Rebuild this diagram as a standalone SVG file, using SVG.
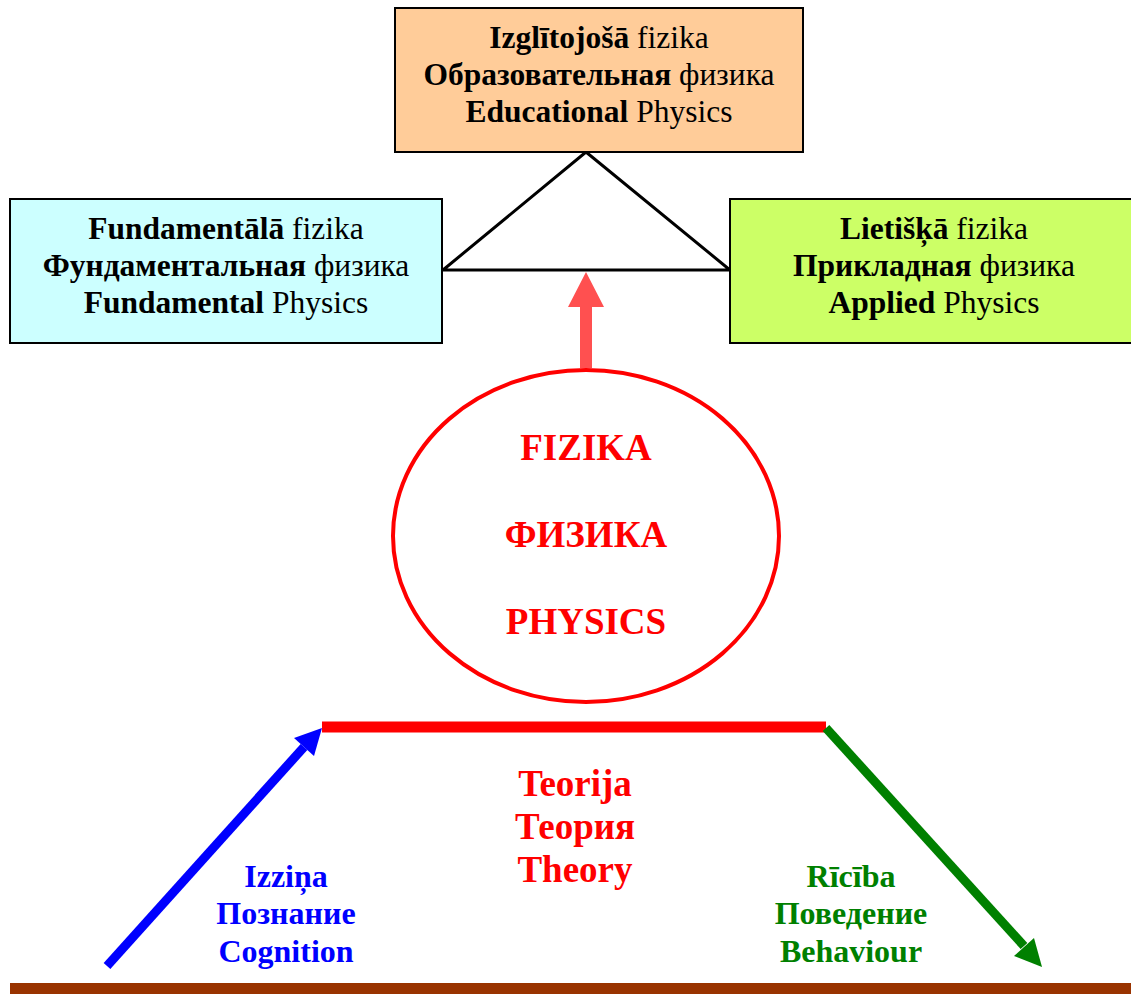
<svg xmlns="http://www.w3.org/2000/svg" width="1131" height="994" viewBox="0 0 1131 994">
<style>
.box{stroke:#000;stroke-width:2}
.t{font-family:"Liberation Serif","Times New Roman",serif;font-size:31.5px;fill:#000;text-anchor:middle}
.b{font-weight:bold}
.ph{font-family:"Liberation Serif","Times New Roman",serif;font-weight:bold;font-size:37px;fill:#FF0000;text-anchor:middle}
.th{font-family:"Liberation Serif","Times New Roman",serif;font-weight:bold;font-size:37px;fill:#FF0000;text-anchor:middle}
.lb{font-family:"Liberation Serif","Times New Roman",serif;font-weight:bold;font-size:32px;text-anchor:middle}
</style>
<rect width="1131" height="994" fill="#fff"/>
<g id="connectors">
<polyline points="443,270 586,152 730,270 443,270" fill="none" stroke="#000" stroke-width="3" stroke-linejoin="miter"/>
<polygon points="580,368 592,368 592,307 604,307 586,272 568,307 580,307" fill="#FF5050"/>
<line x1="322" y1="727" x2="826" y2="727" stroke="#FF0000" stroke-width="11"/>
<line x1="107" y1="966" x2="304" y2="747" stroke="#0000FF" stroke-width="9"/>
<polygon points="322,728 314,756 294,738" fill="#0000FF"/>
<line x1="826" y1="728" x2="1024" y2="946" stroke="#008000" stroke-width="9"/>
<polygon points="1042,967 1014,956 1034,938" fill="#008000"/>
<rect x="10" y="983" width="1121" height="11" fill="#993300"/>
</g>
<g id="educational">
<rect class="box" x="395" y="8" width="408" height="144" fill="#FFCC99"/>
<text class="t" x="599" y="48"><tspan class="b">Izglītojošā</tspan> fizika</text>
<text class="t" x="599" y="85"><tspan class="b">Образовательная</tspan> физика</text>
<text class="t" x="599" y="122"><tspan class="b">Educational</tspan> Physics</text>
</g>
<g id="fundamental">
<rect class="box" x="10" y="199" width="432" height="144" fill="#CCFFFF"/>
<text class="t" x="226" y="239"><tspan class="b">Fundamentālā</tspan> fizika</text>
<text class="t" x="226" y="276"><tspan class="b">Фундаментальная</tspan> физика</text>
<text class="t" x="226" y="313"><tspan class="b">Fundamental</tspan> Physics</text>
</g>
<g id="applied">
<rect class="box" x="730" y="199" width="410" height="144" fill="#CCFF66"/>
<text class="t" x="934" y="239"><tspan class="b">Lietišķā</tspan> fizika</text>
<text class="t" x="934" y="276"><tspan class="b">Прикладная</tspan> физика</text>
<text class="t" x="934" y="313"><tspan class="b">Applied</tspan> Physics</text>
</g>
<g id="physics">
<ellipse cx="586" cy="536" rx="193" ry="166" fill="none" stroke="#FF0000" stroke-width="4"/>
<text class="ph" x="586" y="460">FIZIKA</text>
<text class="ph" x="586" y="547">ФИЗИКА</text>
<text class="ph" x="586" y="634">PHYSICS</text>
</g>
<g id="theory">
<text class="th" x="575" y="796">Teorija</text>
<text class="th" x="575" y="839">Теория</text>
<text class="th" x="575" y="882">Theory</text>
</g>
<g id="cognition">
<text class="lb" x="286" y="887" fill="#0000FF">Izziņa</text>
<text class="lb" x="286" y="924" fill="#0000FF">Познание</text>
<text class="lb" x="286" y="962" fill="#0000FF">Cognition</text>
</g>
<g id="behaviour">
<text class="lb" x="851" y="887" fill="#008000">Rīcība</text>
<text class="lb" x="851" y="924" fill="#008000">Поведение</text>
<text class="lb" x="851" y="962" fill="#008000">Behaviour</text>
</g>
</svg>
